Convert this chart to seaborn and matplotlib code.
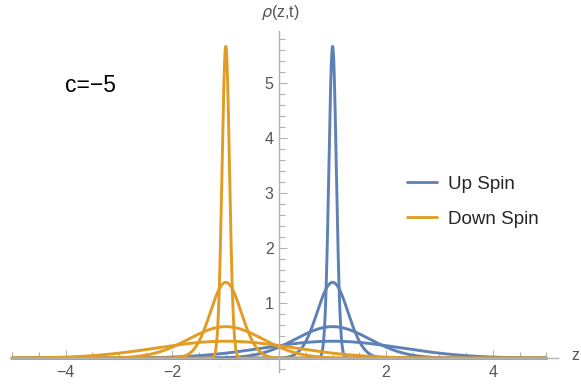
import numpy as np
import pandas as pd
import seaborn as sb
import matplotlib.pyplot as plt
from matplotlib.lines import Line2D
from matplotlib.ticker import MultipleLocator

# vrednosti ocitane sa slike
spins = ['Up Spin', 'Down Spin']
centri = [1.0, -1.0]
vrhovi = [5.67, 1.38, 0.575, 0.31]   # visine vrhova za razlicita vremena
boje = ['#5e81b5', '#e19c24']
x_tick_labels = [-4, -2, 2, 4]
y_tick_labels = [1, 2, 3, 4, 5]

sb.set_style('white')
plt.rcParams['font.family'] = ['Liberation Sans', 'DejaVu Sans']

z = np.linspace(-5, 5, 4001)
redovi = []
for spin, c in zip(spins, centri):
    for i, h in enumerate(vrhovi):
        sigma = 1 / (h * np.sqrt(2 * np.pi))
        rho = h * np.exp(-(z - c) ** 2 / (2 * sigma ** 2))
        redovi.append(pd.DataFrame({'z': z, 'rho': rho, 'spin': spin, 'kriva': f'{spin}{i}'}))
data = pd.concat(redovi, ignore_index = True)

fig = plt.figure(figsize = (5.81, 3.86), dpi = 100)
ax = fig.add_axes([10 / 581, 14 / 386, 548 / 581, 341 / 386])

sb.lineplot(data = data, x = 'z', y = 'rho', hue = 'spin', units = 'kriva', estimator = None,
            palette = dict(zip(spins, boje)), hue_order = spins, lw = 2.1, legend = False,
            sort = False, ax = ax)

ax.set_xlim(-5.04, 5.22)
ax.set_ylim(-0.25, 5.95)
ax.set_xlabel('')
ax.set_ylabel('')

siva = '#b3b3b3'
tekst_siva = '#555555'
for s in ['top', 'right']:
    ax.spines[s].set_visible(False)
ax.spines['left'].set_position(('data', 0))
ax.spines['bottom'].set_position(('data', 0))
for s in ['left', 'bottom']:
    ax.spines[s].set_color(siva)
    ax.spines[s].set_linewidth(1)

ax.set_xticks(x_tick_labels)
ax.set_yticks(y_tick_labels)
ax.xaxis.set_minor_locator(MultipleLocator(0.5))
ax.yaxis.set_minor_locator(MultipleLocator(0.2))
ax.tick_params(which = 'both', direction = 'in', color = siva, width = 0.8,
               labelcolor = tekst_siva, labelsize = 11.5)
ax.tick_params(which = 'major', length = 6)
ax.tick_params(which = 'minor', length = 4)
ax.tick_params(axis = 'x', which = 'both', bottom = True, top = False, pad = 5)
ax.tick_params(axis = 'y', which = 'both', left = True, right = False, pad = 4)

fig.text(280 / 581, 1 - 12 / 386, r'$\rho$(z,t)', ha = 'center', va = 'center',
         color = tekst_siva, fontsize = 11.5)
fig.text(575 / 581, 1 - 356 / 386, 'z', ha = 'center', va = 'center',
         color = tekst_siva, fontsize = 11.5)
fig.text(65 / 581, 1 - 85 / 386, 'c=−5', ha = 'left', va = 'center',
         color = 'black', fontsize = 16.5)

rucke = [Line2D([0], [0], color = b, lw = 2) for b in boje]
ax.legend(rucke, spins, loc = 'center left', bbox_to_anchor = (407 / 581, 1 - 201.5 / 386),
          bbox_transform = fig.transFigure, frameon = False, fontsize = 13.5,
          handlelength = 1.6, handletextpad = 0.6, labelspacing = 0.95,
          borderpad = 0, borderaxespad = 0)

fig.savefig('out.png', dpi = 100)
